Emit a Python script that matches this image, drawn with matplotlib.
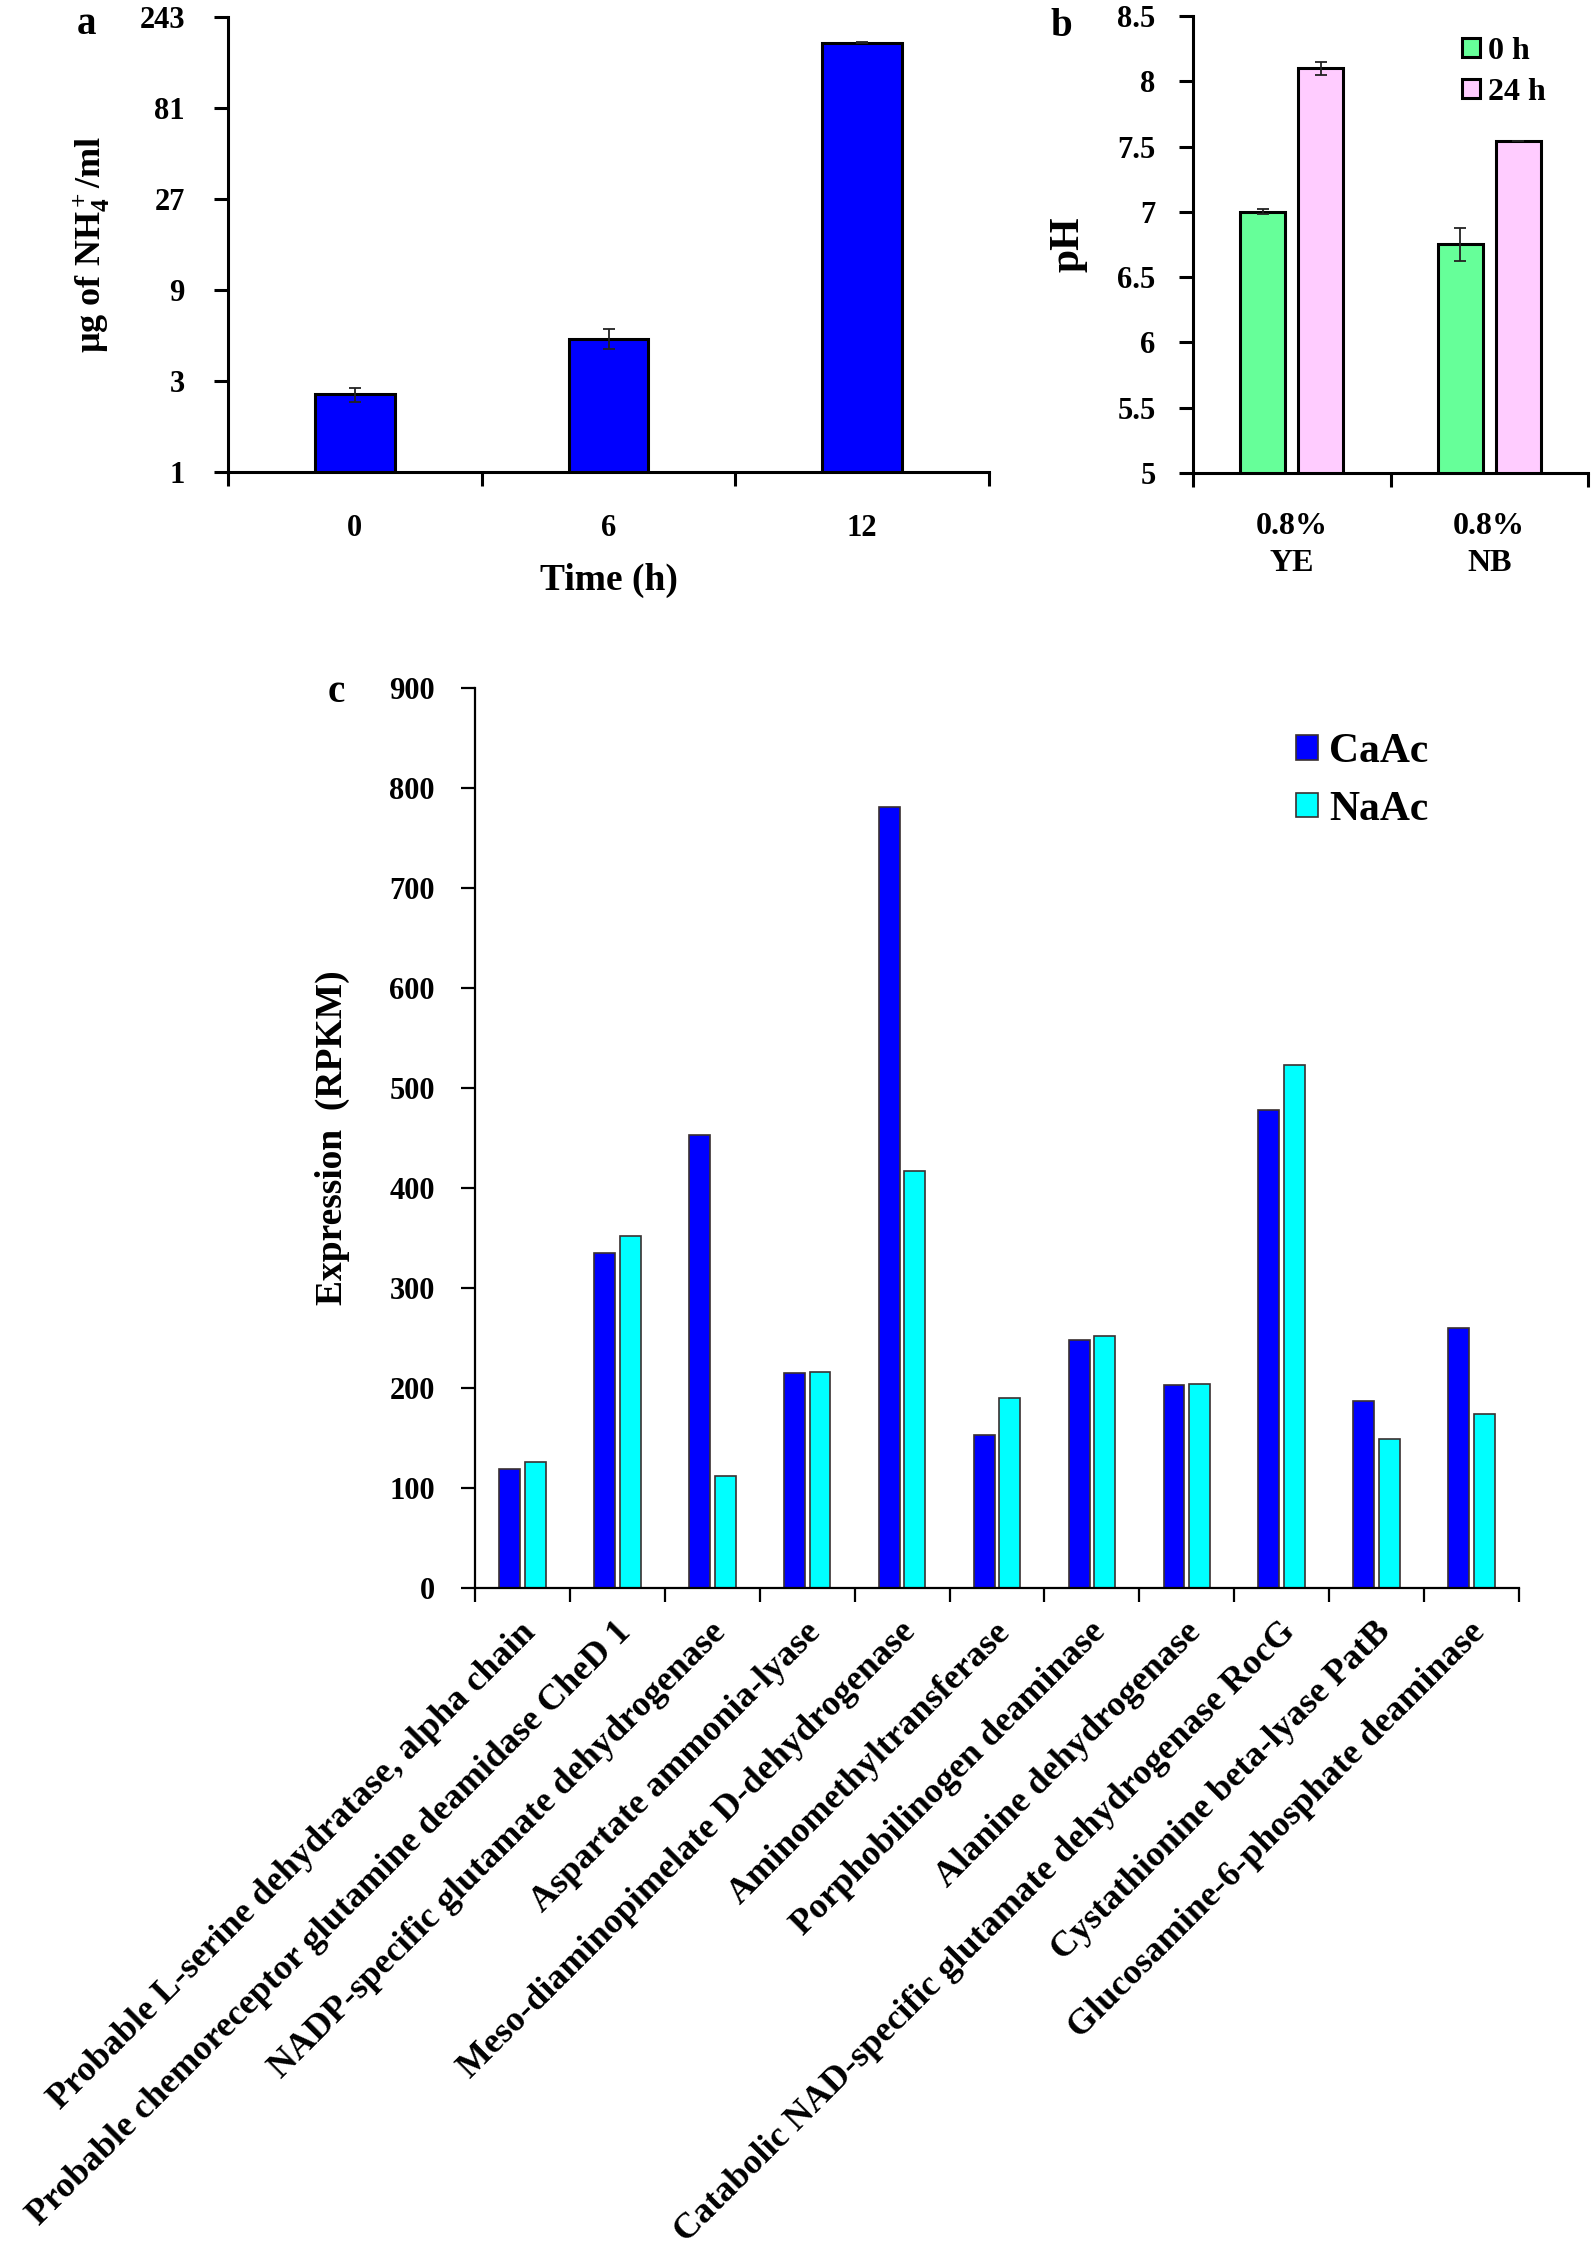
import numpy as np
import matplotlib
matplotlib.use('Agg')
import matplotlib.pyplot as plt
from matplotlib.ticker import NullLocator
from matplotlib.transforms import ScaledTranslation

# panel a: ammonium released
times = ['0', '6', '12']
nh4 = [2.55, 5.0, 178]
nh4_err = [0.22, 0.6, 1.0]

# panel b: pH of media
media = ['0.8%\nYE', '0.8%\nNB']
ph_0h = [7.0, 6.75]
ph_0h_err = [0.02, 0.13]
ph_24h = [8.1, 7.54]
ph_24h_err = [0.05, 0.0]

# panel c: expression of genes
genes = ['Probable L-serine dehydratase, alpha chain',
         'Probable chemoreceptor glutamine deamidase CheD 1',
         'NADP-specific glutamate dehydrogenase',
         'Aspartate ammonia-lyase',
         'Meso-diaminopimelate D-dehydrogenase',
         'Aminomethyltransferase',
         'Porphobilinogen deaminase',
         'Alanine dehydrogenase',
         'Catabolic NAD-specific glutamate dehydrogenase RocG',
         'Cystathionine beta-lyase PatB',
         'Glucosamine-6-phosphate deaminase']
caac = [119, 335, 453, 215, 781, 153, 248, 203, 478, 187, 260]
naac = [126, 352, 112, 216, 417, 190, 252, 204, 523, 149, 174]

plt.rcParams['font.family'] = ['Liberation Serif', 'DejaVu Serif']
plt.rcParams['font.weight'] = 'bold'
plt.rcParams['axes.labelweight'] = 'bold'
plt.rcParams['mathtext.fontset'] = 'custom'
plt.rcParams['mathtext.rm'] = 'Liberation Serif:bold'
plt.rcParams['mathtext.bf'] = 'Liberation Serif:bold'
plt.rcParams['mathtext.it'] = 'Liberation Serif:bold'

W, H = 1591, 2255
fig = plt.figure(figsize=(W / 100, H / 100), dpi=100)


def box(l, t, r, b):
    return [l / W, 1 - b / H, (r - l) / W, (b - t) / H]


def style(ax, lw, tick_pad):
    for s in ['top', 'right']:
        ax.spines[s].set_visible(False)
    for s in ['left', 'bottom']:
        ax.spines[s].set_linewidth(lw)
    ax.tick_params(axis='both', which='major', direction='out', length=10,
                   width=lw, labelsize=22)
    ax.tick_params(axis='y', pad=tick_pad)


# ---- a ----
ax1 = fig.add_axes(box(228, 17, 989, 472))
x = np.arange(len(times))
ax1.bar(x, nh4, 0.315, color='#0000FF', edgecolor='black', linewidth=2.2)
ax1.errorbar(x, nh4, yerr=nh4_err, fmt='none', ecolor='#222222',
             elinewidth=1.3, capsize=4, capthick=1.3)
ax1.set_yscale('log', base=3)
ax1.set_ylim(1, 243)
ax1.set_yticks([1, 3, 9, 27, 81, 243])
ax1.set_yticklabels(['1', '3', '9', '27', '81', '243'])
ax1.yaxis.set_minor_locator(NullLocator())
ax1.set_xlim(-0.5, 2.5)
ax1.set_xticks(np.arange(-0.5, 3, 1))
ax1.set_xticklabels([])
ax1.set_xticks(x, minor=True)
ax1.set_xticklabels(times, minor=True)
style(ax1, 2.2, 21)
ax1.tick_params(axis='x', which='minor', length=0, pad=30, labelsize=22)
ax1.set_xlabel('Time (h)', fontsize=27)
ax1.xaxis.set_label_coords(0.5, -0.2)
ax1.set_ylabel(r'µg of NH$_4^+$/ml', fontsize=26)
ax1.yaxis.set_label_coords(-0.152, 0.5)

# ---- b ----
ax2 = fig.add_axes(box(1193, 16, 1588, 473))
x = np.arange(len(media))
ax2.bar(x - 0.147, ph_0h, 0.228, color='#66FF99', edgecolor='black',
        linewidth=2.2, label='0 h')
ax2.bar(x + 0.147, ph_24h, 0.228, color='#FFCCFF', edgecolor='black',
        linewidth=2.2, label='24 h')
ax2.errorbar(x - 0.147, ph_0h, yerr=ph_0h_err, fmt='none', ecolor='#222222',
             elinewidth=1.3, capsize=4, capthick=1.3)
ax2.errorbar(x + 0.147, ph_24h, yerr=ph_24h_err, fmt='none', ecolor='#222222',
             elinewidth=1.3, capsize=4, capthick=1.3)
ax2.set_ylim(5, 8.5)
ax2.set_yticks(np.arange(5, 8.51, 0.5))
ax2.set_yticklabels(['5', '5.5', '6', '6.5', '7', '7.5', '8', '8.5'])
ax2.set_xlim(-0.5, 1.5)
ax2.set_xticks([-0.5, 0.5, 1.5])
ax2.set_xticklabels([])
ax2.set_xticks(x, minor=True)
ax2.set_xticklabels(media, minor=True, linespacing=1.35)
style(ax2, 2.2, 17)
ax2.tick_params(axis='x', which='minor', length=0, pad=28, labelsize=23)
ax2.set_ylabel('pH', fontsize=30)
ax2.yaxis.set_label_coords(-0.268, 0.5)
ax2.legend(loc='upper left', bbox_to_anchor=(1462 / W, 1 - 37 / H),
           bbox_transform=fig.transFigure, frameon=False, borderpad=0,
           borderaxespad=0, handlelength=0.55, handleheight=0.55,
           handletextpad=0.25, labelspacing=0.37, fontsize=23)

# ---- c ----
ax3 = fig.add_axes(box(475, 688, 1519, 1588))
x = np.arange(len(genes))
ax3.bar(x - 0.135, caac, 0.22, color='#0000FF', edgecolor='#3a3030',
        linewidth=1.2, label='CaAc')
ax3.bar(x + 0.135, naac, 0.22, color='#00FFFF', edgecolor='#3a3030',
        linewidth=1.2, label='NaAc')
ax3.set_ylim(0, 900)
ax3.set_yticks(np.arange(0, 901, 100))
ax3.set_xlim(-0.5, len(genes) - 0.5)
ax3.set_xticks(np.arange(-0.5, len(genes), 1))
ax3.set_xticklabels([])
ax3.set_xticks(x, minor=True)
ax3.set_xticklabels(genes, minor=True, rotation=45, ha='right', va='top',
                    rotation_mode='anchor', fontsize=26)
style(ax3, 1.6, 19)
ax3.tick_params(axis='x', which='minor', length=0, pad=20)
shift = ScaledTranslation(-0.03, 0, fig.dpi_scale_trans)
for lbl in ax3.get_xticklabels(minor=True):
    lbl.set_transform(lbl.get_transform() + shift)
ax3.set_ylabel('Expression  (RPKM)', fontsize=27)
ax3.yaxis.set_label_coords(-0.12, 0.5)
ax3.legend(loc='upper left', bbox_to_anchor=(1296 / W, 1 - 733 / H),
           bbox_transform=fig.transFigure, frameon=False, borderpad=0,
           borderaxespad=0, handlelength=0.53, handleheight=0.53,
           handletextpad=0.27, labelspacing=0.47, fontsize=30)

# panel letters
fig.text(86 / W, 1 - 34 / H, 'a', fontsize=28, ha='center', va='baseline')
fig.text(1061 / W, 1 - 36 / H, 'b', fontsize=28, ha='center', va='baseline')
fig.text(336 / W, 1 - 702 / H, 'c', fontsize=28, ha='center', va='baseline')

fig.savefig('out.png', dpi=100)
